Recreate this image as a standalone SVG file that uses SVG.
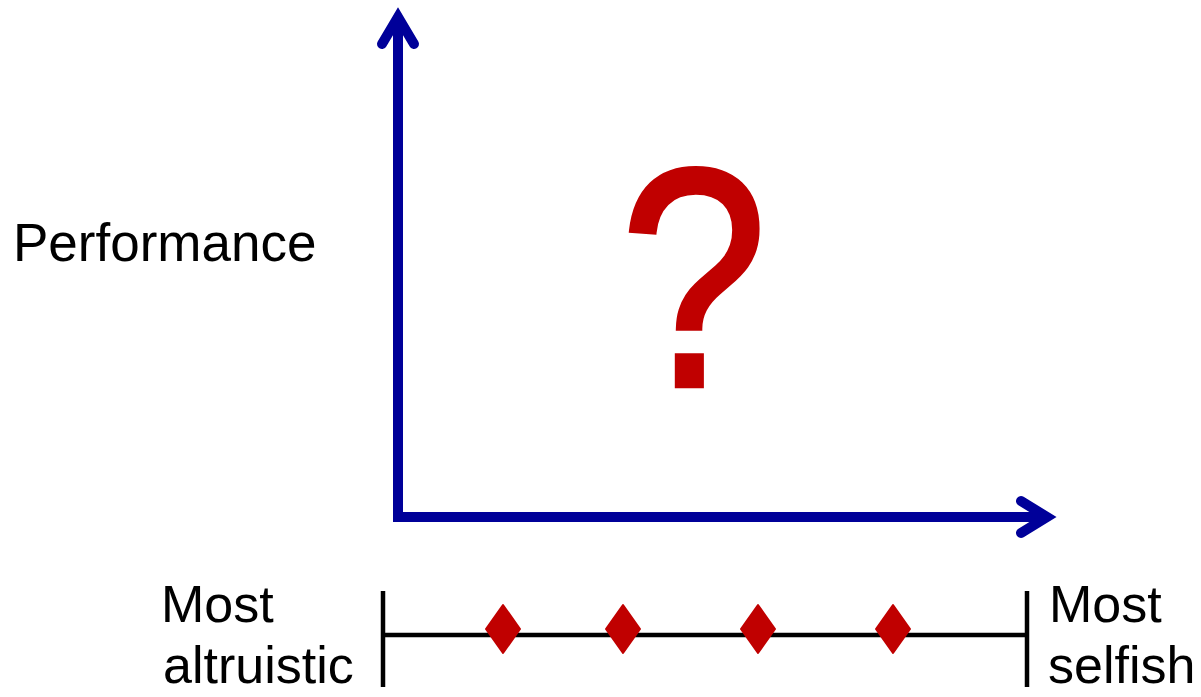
<svg xmlns="http://www.w3.org/2000/svg" width="1201" height="697" viewBox="0 0 1201 697">
  <style>
    .axis { fill: none; stroke: #000099; stroke-width: 10; stroke-linecap: round; stroke-linejoin: miter; }
    .scale { fill: none; stroke: #000000; stroke-width: 4.5; }
    .dia { fill: #C00000; stroke: #C00000; stroke-width: 2; stroke-linejoin: round; }
    .lbl { font-family: "Liberation Sans", Arial, sans-serif; fill: #000000; font-size: 52px; }
  </style>
  <rect width="1201" height="697" fill="#FFFFFF"/>
  <g id="connectors">
    <line class="axis" x1="398" y1="20" x2="398" y2="517" style="stroke-linecap:butt"/>
    <line class="axis" x1="393" y1="517" x2="1045" y2="517" style="stroke-linecap:butt"/>
    <polyline class="axis" points="382,44 398,17 414,44"/>
    <polyline class="axis" points="1021,501 1047,517 1021,533"/>
  </g>
  <g id="y-label">
    <text class="lbl" x="13" y="261" style="font-size:53px">Performance</text>
  </g>
  <g id="question">
    <text transform="translate(620,386) scale(0.85,1)" x="0" y="0" font-family="Liberation Sans, Arial, sans-serif" font-size="312" fill="#C00000" stroke="#C00000" stroke-width="4.5" stroke-linejoin="miter">?</text>
  </g>
  <g id="scale">
    <line class="scale" x1="383" y1="591" x2="383" y2="687"/>
    <line class="scale" x1="1027" y1="591" x2="1027" y2="687"/>
    <line class="scale" x1="383" y1="635" x2="1027" y2="635"/>
  </g>
  <g id="diamonds">
    <polygon class="dia" points="503,605 520,629 503,653 486,629"/>
    <polygon class="dia" points="623,605 640,629 623,653 606,629"/>
    <polygon class="dia" points="758,605 775,629 758,653 741,629"/>
    <polygon class="dia" points="893,605 910,629 893,653 876,629"/>
  </g>
  <g id="left-label">
    <text class="lbl" x="161" y="622">Most</text>
    <text class="lbl" x="163" y="683">altruistic</text>
  </g>
  <g id="right-label">
    <text class="lbl" x="1049" y="622">Most</text>
    <text class="lbl" x="1048" y="683">selfish</text>
  </g>
</svg>
